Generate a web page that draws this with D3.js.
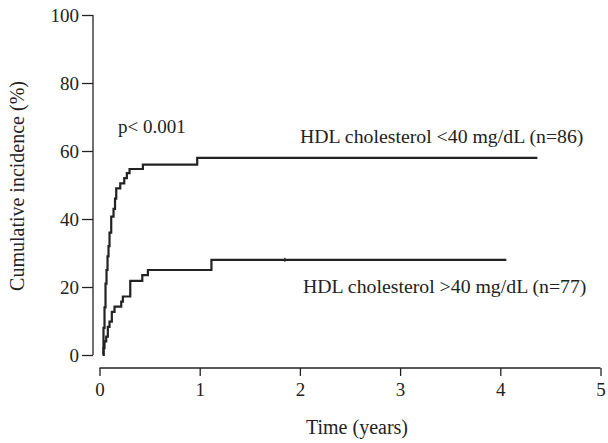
<!DOCTYPE html>
<html><head><meta charset="utf-8">
<script src="https://cdn.jsdelivr.net/npm/d3@7"></script>
<style>body{margin:0;background:#fff}svg{display:block}text{font-family:"Liberation Serif","Times New Roman",serif;fill:#222}</style>
</head><body><div id="chart"></div>
<script>
// HDL cholesterol <40 mg/dL (n=86)
const lowTimes = [0, 0.033, 0.04, 0.05, 0.06, 0.07, 0.08, 0.09, 0.10, 0.117, 0.14, 0.155, 0.167, 0.207, 0.247, 0.273, 0.30, 0.433, 0.975, 4.37];
const lowValues = [0, 0, 8, 14, 21, 25, 29, 32, 36, 40.7, 43, 46, 49, 50.5, 52, 53.5, 54.7, 56, 58, 58];
// HDL cholesterol >40 mg/dL (n=77)
const highTimes = [0, 0.033, 0.04, 0.05, 0.067, 0.083, 0.10, 0.123, 0.15, 0.217, 0.233, 0.307, 0.427, 0.483, 1.117, 4.06];
const highValues = [0, 0, 2, 4, 5.4, 8.3, 9.8, 12.7, 14.2, 15.7, 17.2, 21.8, 23.5, 25, 28, 28];
const highCensor = [1.85];
const xTicks = [0, 1, 2, 3, 4, 5];
const yTicks = [0, 20, 40, 60, 80, 100];
const labels = ["HDL cholesterol <40 mg/dL (n=86)", "HDL cholesterol >40 mg/dL (n=77)"];
const pText = "p< 0.001";

const W = 608, H = 443;
const svg = d3.select("#chart").append("svg").attr("width", W).attr("height", H);
const x = d3.scaleLinear().domain([0, 5]).range([99.5, 600.5]);
const y = d3.scaleLinear().domain([0, 100]).range([355, 15]);

// y axis
const yAxis = svg.append("g").attr("transform", "translate(93,0)")
  .call(d3.axisLeft(y).tickValues(yTicks).tickSize(11).tickPadding(3).tickFormat(d3.format("d")));
yAxis.select(".domain").attr("d", `M0,${y(0)}V${y(100)}`);
// x axis
const xAxis = svg.append("g").attr("transform", "translate(0,368)")
  .call(d3.axisBottom(x).tickValues(xTicks).tickSize(8).tickPadding(7).tickFormat(d3.format("d")));
xAxis.select(".domain").attr("d", `M${x(0)},0H${x(5)}`);
svg.selectAll(".tick text").style("font-size", "19px").style("font-family", '"Liberation Serif",serif').attr("fill", "#222");
svg.selectAll(".domain, .tick line").attr("stroke", "#222").attr("stroke-width", 1.3);

const line = d3.line().x(d => x(d[0])).y(d => y(d[1])).curve(d3.curveStepAfter);
const series = [[lowTimes, lowValues], [highTimes, highValues]];
series.forEach(([t, v]) => {
  svg.append("path").datum(t.map((tt, i) => [tt, v[i]]).slice(1))
    .attr("d", line).attr("fill", "none").attr("stroke", "#222").attr("stroke-width", 2.2);
});
highCensor.forEach(c => {
  svg.append("line").attr("x1", x(c)).attr("x2", x(c)).attr("y1", y(28) - 2).attr("y2", y(28) + 2)
    .attr("stroke", "#222").attr("stroke-width", 1.2);
});

svg.append("text").attr("x", 118).attr("y", 133).style("font-size", "19px").text(pText);
svg.append("text").attr("x", 300).attr("y", 143).style("font-size", "19.8px").text(labels[0]);
svg.append("text").attr("x", 303).attr("y", 293).style("font-size", "19.8px").text(labels[1]);

svg.append("text").attr("x", 357).attr("y", 434).attr("text-anchor", "middle").style("font-size", "20px").text("Time (years)");
svg.append("text").attr("transform", "translate(24,186) rotate(-90)").attr("text-anchor", "middle").style("font-size", "20px").text("Cumulative incidence (%)");
</script></body></html>
